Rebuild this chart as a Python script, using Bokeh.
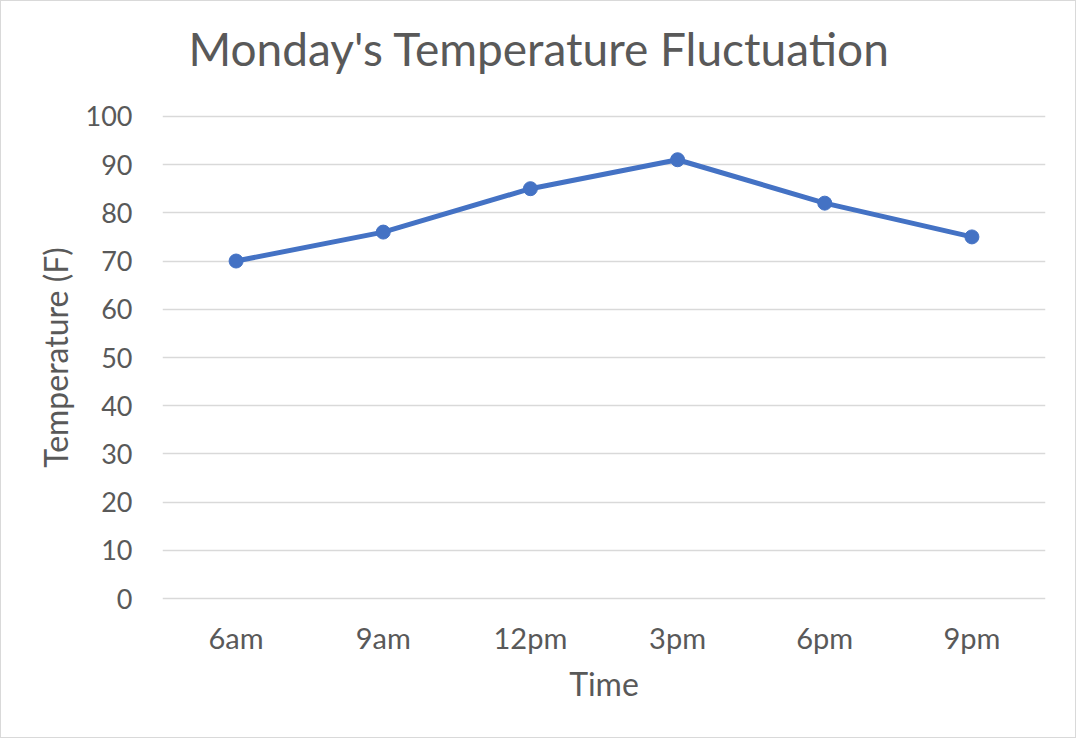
from bokeh.plotting import figure
from bokeh.models import FixedTicker, Range1d, FactorRange, Title
from bokeh.embed import file_html
from bokeh.resources import INLINE

times = ["6am", "9am", "12pm", "3pm", "6pm", "9pm"]
temps = [70, 76, 85, 91, 82, 75]
y_ticks = [0, 10, 20, 30, 40, 50, 60, 70, 80, 90, 100]
title_text = "Monday's Temperature Fluctuation"

FONT = "Lato"
TXT = "#595959"
GRID = "#D9D9D9"
LINE = "#4472C4"

p = figure(width=1076, height=738, output_backend="svg", toolbar_location=None,
           x_range=FactorRange(*times, range_padding=0), y_range=Range1d(-1, 101),
           min_border_left=161, min_border_right=32, min_border_bottom=136, min_border_top=110)
p.styles = {"border": "1px solid #D9D9D9"}

# spacer between title and plot area
p.add_layout(Title(text=" ", text_font_size="10px", standoff=21), "above")
p.add_layout(Title(text=title_text, text_font=FONT, text_font_size="46px",
                   text_font_style="normal", text_color=TXT, align="left",
                   vertical_align="top", offset=26, standoff=0), "above")

p.outline_line_color = None
p.background_fill_color = "white"
p.border_fill_color = "white"

p.xgrid.grid_line_color = None
p.ygrid.grid_line_color = GRID
p.ygrid.grid_line_width = 1.5
p.yaxis.ticker = FixedTicker(ticks=y_ticks)

for ax in (p.xaxis, p.yaxis):
    ax.axis_line_color = None
    ax.major_tick_line_color = None
    ax.minor_tick_line_color = None
    ax.major_label_text_font = FONT
    ax.major_label_text_color = TXT
    ax.axis_label_text_font = FONT
    ax.axis_label_text_font_size = "32px"
    ax.axis_label_text_font_style = "normal"
    ax.axis_label_text_color = TXT

p.yaxis.major_label_text_font_size = "27px"
p.xaxis.major_label_text_font_size = "29px"
p.xaxis.axis_label = "Time"
p.yaxis.axis_label = "Temperature (F)"
p.yaxis.major_label_standoff = 24
p.xaxis.major_label_standoff = 10
p.xaxis.axis_label_standoff = 6
p.yaxis.axis_label_standoff = 8

p.line(times, temps, line_color=LINE, line_width=5)
p.scatter(times, temps, size=14, fill_color=LINE, line_color=LINE)

open("out.html", "w").write(file_html(p, INLINE))
